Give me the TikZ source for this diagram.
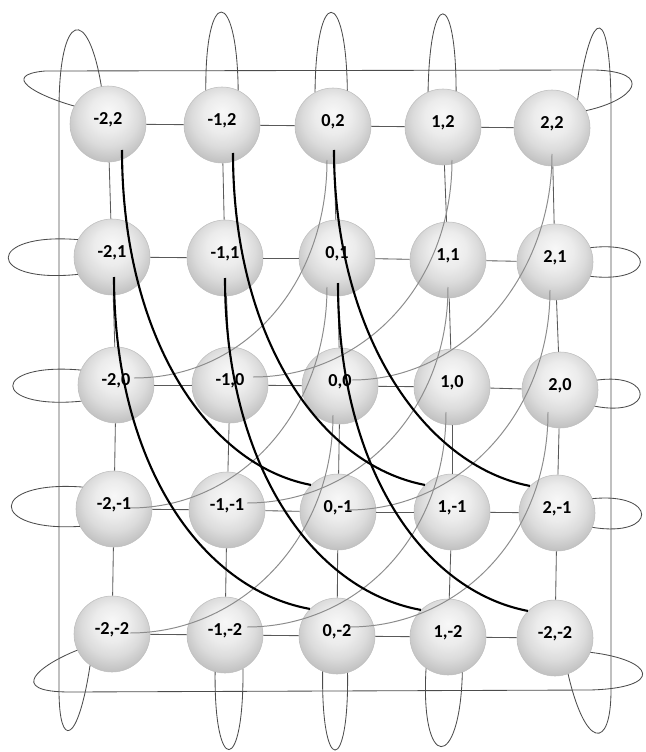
\documentclass[tikz,border=0pt]{standalone}
\usepackage{fontspec}
\setsansfont{Carlito}
\usetikzlibrary{calc}
\pgfdeclareradialshading{sphere}{\pgfpoint{0bp}{9bp}}{%
  color(0bp)=(gray!6); color(12bp)=(gray!15); color(20bp)=(gray!28);
  color(27bp)=(gray!45); color(34bp)=(gray!62); color(50bp)=(gray!62)}

\begin{document}
\begin{tikzpicture}[x=0.25mm, y=-0.25mm,
  ball/.style={circle, draw=gray!50, thin, shading=sphere, minimum size=19mm, inner sep=0pt, text depth=8pt, font=\sffamily\bfseries\fontsize{13}{15}\selectfont},
  link/.style={draw=black!65, line width=0.6pt},
  wrap/.style={draw=black!70, line width=0.6pt},
  dark/.style={draw=black, line width=1.5pt},
  light/.style={draw=black!45, line width=0.7pt}
]
\useasboundingbox (0,0) rectangle (645,752);

% Grid nodes, top row first
\node[ball] (n04) at (108,124) {-2,2};
\node[ball] (n14) at (222,125) {-1,2};
\node[ball] (n24) at (333,126) {0,2};
\node[ball] (n34) at (443,127) {1,2};
\node[ball] (n44) at (552,128) {2,2};
\node[ball] (n03) at (112,257) {-2,1};
\node[ball] (n13) at (225,258) {-1,1};
\node[ball] (n23) at (337,258) {0,1};
\node[ball] (n33) at (448,260) {1,1};
\node[ball] (n43) at (555,262) {2,1};
\node[ball] (n02) at (116,385) {-2,0};
\node[ball] (n12) at (230,385) {-1,0};
\node[ball] (n22) at (340,386) {0,0};
\node[ball] (n32) at (452,387) {1,0};
\node[ball] (n42) at (560,390) {2,0};
\node[ball] (n01) at (114,509) {-2,-1};
\node[ball] (n11) at (227,510) {-1,-1};
\node[ball] (n21) at (338,512) {0,-1};
\node[ball] (n31) at (452,512) {1,-1};
\node[ball] (n41) at (557,513) {2,-1};
\node[ball] (n00) at (112,634) {-2,-2};
\node[ball] (n10) at (225,635) {-1,-2};
\node[ball] (n20) at (337,636) {0,-2};
\node[ball] (n30) at (448,637) {1,-2};
\node[ball] (n40) at (555,638) {-2,-2};

% Mesh links
\foreach \j in {0,...,4}{
  \foreach \i [count=\k from 1] in {0,...,3}{
    \draw[link] (n\i\j) -- (n\k\j);
    \draw[link] (n\j\i) -- (n\j\k);
  }
}

% Wrap-around of outer rows and columns
\draw[wrap] (n04.152) .. controls (35,95) and (0,75) .. (45,71) -- (595,70) .. controls (655,72) and (635,100) .. (n44.27);
\draw[wrap] (n00.205) .. controls (40,665) and (5,692) .. (70,692) -- (590,690) .. controls (665,688) and (655,660) .. (n40.338);
\draw[wrap] (n04.100) .. controls (88,5) and (59,10) .. (59,110) -- (59,690) .. controls (59,750) and (78,745) .. (n00.235);
\draw[wrap] (n44.48) .. controls (592,0) and (611,5) .. (611,110) -- (611,690) .. controls (611,752) and (585,748) .. (n40.290);

% Wrap-around of inner columns
\draw[wrap] (n14.115) .. controls (205,-14) and (237,-14) .. (n14.65);
\draw[wrap] (n24.118) .. controls (316,-14) and (346,-14) .. (n24.68);
\draw[wrap] (n34.113) .. controls (430,-12) and (456,-12) .. (n34.70);
\draw[wrap] (n10.-105) .. controls (214,776) and (244,776) .. (n10.-62);
\draw[wrap] (n20.-112) .. controls (321,776) and (349,776) .. (n20.-74);
\draw[wrap] (n30.-125) .. controls (420,772) and (460,772) .. (n30.-68);

% Wrap-around of inner rows
\draw[wrap] (n03.153) .. controls (-15,232) and (-15,284) .. (n03.207);
\draw[wrap] (n02.157) .. controls (-10,362) and (-10,410) .. (n02.205);
\draw[wrap] (n01.145) .. controls (-12,480) and (-12,532) .. (n01.207);
\draw[wrap] (n43.22) .. controls (657,240) and (657,284) .. (n43.-22);
\draw[wrap] (n42.15) .. controls (655,372) and (655,418) .. (n42.-25);
\draw[wrap] (n41.22) .. controls (658,492) and (658,538) .. (n41.-22);

% Diagonal links drawn upwards
\draw[light] ($(n02)+(18,-7)$) .. controls +(110,0) and +(0,125) .. ($(n24)+(-6,34)$);
\draw[light] ($(n01)+(16,-1)$) .. controls +(110,0) and +(0,125) .. ($(n23)+(-10,29)$);
\draw[light] ($(n00)+(18,-1)$) .. controls +(110,0) and +(0,125) .. ($(n22)+(-7,29)$);
\draw[light] ($(n12)+(23,-8)$) .. controls +(110,0) and +(0,125) .. ($(n34)+(9,33)$);
\draw[light] ($(n11)+(20,-7)$) .. controls +(110,0) and +(0,125) .. ($(n33)+(0,27)$);
\draw[light] ($(n10)+(22,-8)$) .. controls +(110,0) and +(0,125) .. ($(n32)+(-6,25)$);
\draw[light] ($(n22)+(12,-6)$) .. controls +(110,0) and +(0,125) .. ($(n44)+(0,26)$);
\draw[light] ($(n21)+(10,-2)$) .. controls +(110,0) and +(0,125) .. ($(n43)+(-5,28)$);
\draw[light] ($(n20)+(12,-9)$) .. controls +(110,0) and +(0,125) .. ($(n42)+(-12,22)$);

% Diagonal links drawn downwards
\draw[dark] ($(n04)+(14,26)$) .. controls +(0,185) and +(-105,-20) .. (n21.135);
\draw[dark] ($(n03)+(2,20)$) .. controls +(0,185) and +(-110,-20) .. (n20.135);
\draw[dark] ($(n14)+(11,28)$) .. controls +(0,185) and +(-105,-20) .. (n31.135);
\draw[dark] ($(n13)+(0,20)$) .. controls +(0,185) and +(-110,-20) .. (n30.135);
\draw[dark] ($(n24)+(1,24)$) .. controls +(0,185) and +(-105,-20) .. (n41.135);
\draw[dark] ($(n23)+(1,25)$) .. controls +(0,185) and +(-105,-20) .. (n40.135);
\end{tikzpicture}
\end{document}
